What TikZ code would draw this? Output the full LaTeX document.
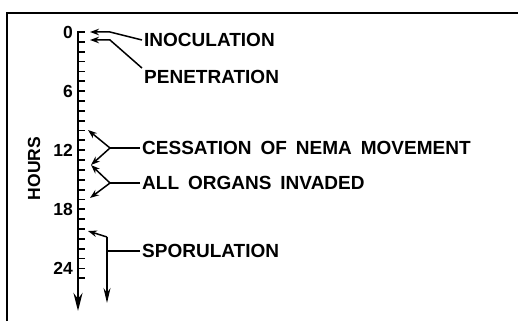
\documentclass[tikz,border=0pt]{standalone}
\usepackage{fontspec}
\setmainfont[WordSpace=1.7]{Liberation Sans}
\usepackage{tikz}
\usetikzlibrary{arrows.meta}

\tikzset{
  evlabel/.style={anchor=west, inner sep=2pt, font=\fontsize{19}{22}\selectfont\bfseries},
  hrlabel/.style={anchor=east, inner sep=0pt, font=\fontsize{17.5}{19}\selectfont\bfseries},
  brkt/.style={line width=1.5pt},
  brktarrow/.style={brkt, -{Stealth[length=9pt, width=6.5pt]}},
}

\begin{document}
\begin{tikzpicture}[x=1pt, y=-1pt]
    \useasboundingbox (0,0) rectangle (518,321);

    % Frame
    \draw[line width=1.8pt] (7,321) -- (7,13) -- (518,13);

    % Time axis
    \coordinate (axtop) at (78,32);
    \coordinate (axend) at (78,311);
    \draw[line width=2.4pt, -{Stealth[length=18pt, width=9pt]}] (axtop) -- (axend);
    \foreach \h in {0,...,25}
        \draw[line width=1.8pt] (77,{32+9.85*\h}) -- (85,{32+9.85*\h});
    \foreach \h in {0,6,12,18,24}
        \node[hrlabel] (hr\h) at (73,{32+9.85*\h}) {\h};
    \node[rotate=90, inner sep=0pt, font=\fontsize{17.5}{19}\selectfont\bfseries] (hours) at (34,168.5) {HOURS};

    % Events
    \node[evlabel] (inoc) at (142,40) {INOCULATION};
    \node[evlabel] (pen) at (142,77) {PENETRATION};
    \node[evlabel] (cess) at (140,148) {CESSATION OF NEMA MOVEMENT};
    \node[evlabel] (inv) at (140,183) {ALL ORGANS INVADED};
    \node[evlabel] (spor) at (140,251) {SPORULATION};

    % Bracket points
    \coordinate (inock) at (110,32);
    \coordinate (inoct) at (90,32);
    \coordinate (penk) at (110,40);
    \coordinate (pent) at (90,40);
    \coordinate (cessj) at (110,148);
    \coordinate (cesst) at (88,130);
    \coordinate (midt) at (91,165);
    \coordinate (invj) at (110,183);
    \coordinate (invt) at (90,198);
    \coordinate (sporj) at (107,251);
    \coordinate (sporc) at (107,237);
    \coordinate (sport) at (88,231);
    \coordinate (sporend) at (107,303);

    % Connections
    \draw[brktarrow] (inoc.west) -- (inock) -- (inoct);
    \draw[brktarrow] (pen.north west) -- (penk) -- (pent);
    \draw[brkt] (cess.west) -- (cessj);
    \draw[brktarrow] (cessj) -- (cesst);
    \draw[brktarrow] (cessj) -- (midt);
    \draw[brkt] (inv.west) -- (invj);
    \draw[brktarrow] (invj) -- (midt);
    \draw[brktarrow] (invj) -- (invt);
    \draw[brkt] (spor.west) -- (sporj);
    \draw[brktarrow] (sporc) -- (sport);
    \draw[brkt, -{Stealth[length=15pt, width=7pt]}] (sporc) -- (sporend);
\end{tikzpicture}
\end{document}
